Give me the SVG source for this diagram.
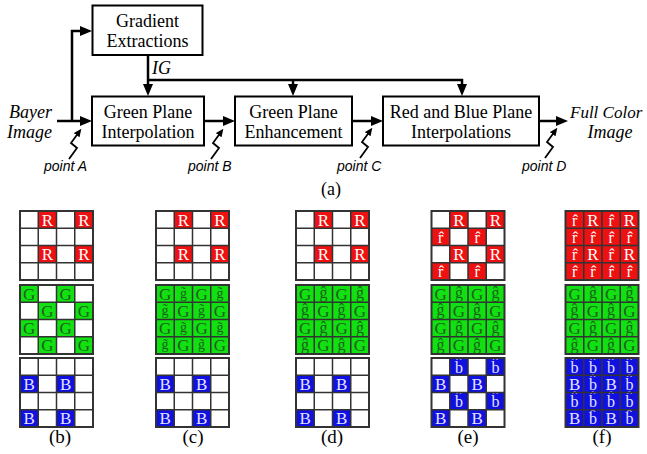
<svg xmlns="http://www.w3.org/2000/svg" width="647" height="454" viewBox="0 0 647 454">
<style>
.box{fill:#fff;stroke:#000;stroke-width:2}
.bt{font-family:"Liberation Serif","Times New Roman",serif;font-size:18px;text-anchor:middle;fill:#000}
.it{font-family:"Liberation Serif","Times New Roman",serif;font-size:18px;font-style:italic;fill:#000}
.pt{font-family:"Liberation Sans",Arial,sans-serif;font-size:14px;font-style:italic;fill:#000}
.cap{font-family:"Liberation Serif","Times New Roman",serif;font-size:19px;text-anchor:middle;fill:#000}
.con{fill:none;stroke:#000;stroke-width:2.5}
.zig{fill:none;stroke:#000;stroke-width:1.8;stroke-linejoin:miter}
.c{font-family:"Liberation Serif","Times New Roman",serif;font-size:17px;text-anchor:middle}
.l{font-size:16px}
.s{font-size:14px}
.w{fill:#fff}
.bw{fill:#e4e4ff}
.g{fill:#1e5e1e}
.fr{fill:#ee1111}
.fg{fill:#11e011}
.fb{fill:#1010e0}
.gl{fill:none;stroke:#333;stroke-width:1.5}
</style>
<defs>
<marker id="ah" markerUnits="userSpaceOnUse" markerWidth="12" markerHeight="10" refX="6" refY="5" orient="auto"><path d="M0,0L12,5L0,10z" fill="#000"/></marker>
<marker id="zh" markerUnits="userSpaceOnUse" markerWidth="8" markerHeight="7" refX="4" refY="3.5" orient="auto"><path d="M0,0L8,3.5L0,7z" fill="#000"/></marker>
<g id="gl"><rect x="0" y="0" width="73" height="69" class="gl" style="stroke-width:2"/><path class="gl" d="M18.25 0V69M36.5 0V69M54.75 0V69M0 17.25H73M0 34.5H73M0 51.75H73"/></g>
<g id="redB">
<rect width="73" height="69" fill="#fff"/>
<path class="fr" d="M18.25 0h18.25v17.25h-18.25zM54.75 0h18.25v17.25h-18.25zM18.25 34.5h18.25v17.25h-18.25zM54.75 34.5h18.25v17.25h-18.25z"/>
<text class="c w" x="27.4" y="14.6">R</text><text class="c w" x="63.9" y="14.6">R</text>
<text class="c w" x="27.4" y="49.1">R</text><text class="c w" x="63.9" y="49.1">R</text>
<use href="#gl"/>
</g>
<g id="redE">
<rect width="73" height="69" fill="#fff"/>
<path class="fr" d="M18.25 0h18.25v17.25h-18.25zM54.75 0h18.25v17.25h-18.25zM18.25 34.5h18.25v17.25h-18.25zM54.75 34.5h18.25v17.25h-18.25zM0 17.25h18.25v17.25h-18.25zM36.5 17.25h18.25v17.25h-18.25zM0 51.75h18.25v17.25h-18.25zM36.5 51.75h18.25v17.25h-18.25z"/>
<text class="c w" x="27.4" y="14.6">R</text><text class="c w" x="63.9" y="14.6">R</text>
<text class="c w" x="27.4" y="49.1">R</text><text class="c w" x="63.9" y="49.1">R</text>
<text class="c l w" x="9.1" y="31.8">r&#x302;</text><text class="c l w" x="45.6" y="31.8">r&#x302;</text>
<text class="c l w" x="9.1" y="66.3">r&#x302;</text><text class="c l w" x="45.6" y="66.3">r&#x302;</text>
<use href="#gl"/>
</g>
<g id="redF">
<rect width="73" height="69" class="fr"/>
<text class="c w" x="27.4" y="14.6">R</text><text class="c w" x="63.9" y="14.6">R</text>
<text class="c w" x="27.4" y="49.1">R</text><text class="c w" x="63.9" y="49.1">R</text>
<text class="c l w" x="9.1" y="14.6">r&#x302;</text><text class="c l w" x="45.6" y="14.6">r&#x302;</text>
<text class="c l w" x="9.1" y="31.8">r&#x302;</text><text class="c l w" x="27.4" y="31.8">r&#x302;</text><text class="c l w" x="45.6" y="31.8">r&#x302;</text><text class="c l w" x="63.9" y="31.8">r&#x302;</text>
<text class="c l w" x="9.1" y="49.1">r&#x302;</text><text class="c l w" x="45.6" y="49.1">r&#x302;</text>
<text class="c l w" x="9.1" y="66.3">r&#x302;</text><text class="c l w" x="27.4" y="66.3">r&#x302;</text><text class="c l w" x="45.6" y="66.3">r&#x302;</text><text class="c l w" x="63.9" y="66.3">r&#x302;</text>
<use href="#gl"/>
</g>
<g id="greenB">
<rect width="73" height="69" fill="#fff"/>
<path class="fg" d="M0 0h18.25v17.25h-18.25zM36.5 0h18.25v17.25h-18.25zM18.25 17.25h18.25v17.25h-18.25zM54.75 17.25h18.25v17.25h-18.25zM0 34.5h18.25v17.25h-18.25zM36.5 34.5h18.25v17.25h-18.25zM18.25 51.75h18.25v17.25h-18.25zM54.75 51.75h18.25v17.25h-18.25z"/>
<text class="c g" x="9.1" y="14.6">G</text><text class="c g" x="45.6" y="14.6">G</text>
<text class="c g" x="27.4" y="31.8">G</text><text class="c g" x="63.9" y="31.8">G</text>
<text class="c g" x="9.1" y="49.1">G</text><text class="c g" x="45.6" y="49.1">G</text>
<text class="c g" x="27.4" y="66.3">G</text><text class="c g" x="63.9" y="66.3">G</text>
<use href="#gl"/>
</g>
<g id="greenC">
<rect width="73" height="69" class="fg"/>
<text class="c g" x="9.1" y="14.6">G</text><text class="c g" x="45.6" y="14.6">G</text>
<text class="c g" x="27.4" y="31.8">G</text><text class="c g" x="63.9" y="31.8">G</text>
<text class="c g" x="9.1" y="49.1">G</text><text class="c g" x="45.6" y="49.1">G</text>
<text class="c g" x="27.4" y="66.3">G</text><text class="c g" x="63.9" y="66.3">G</text>
<text class="c s g" x="27.4" y="12.6">g&#x303;</text><text class="c s g" x="63.9" y="12.6">g&#x303;</text>
<text class="c s g" x="9.1" y="29.8">g&#x303;</text><text class="c s g" x="45.6" y="29.8">g&#x303;</text>
<text class="c s g" x="27.4" y="47.1">g&#x303;</text><text class="c s g" x="63.9" y="47.1">g&#x303;</text>
<text class="c s g" x="9.1" y="64.3">g&#x303;</text><text class="c s g" x="45.6" y="64.3">g&#x303;</text>
<use href="#gl"/>
</g>
<g id="greenD">
<rect width="73" height="69" class="fg"/>
<text class="c g" x="9.1" y="14.6">G</text><text class="c g" x="45.6" y="14.6">G</text>
<text class="c g" x="27.4" y="31.8">G</text><text class="c g" x="63.9" y="31.8">G</text>
<text class="c g" x="9.1" y="49.1">G</text><text class="c g" x="45.6" y="49.1">G</text>
<text class="c g" x="27.4" y="66.3">G</text><text class="c g" x="63.9" y="66.3">G</text>
<text class="c l g" x="27.4" y="13.1">ĝ</text><text class="c l g" x="63.9" y="13.1">ĝ</text>
<text class="c l g" x="9.1" y="30.3">ĝ</text><text class="c l g" x="45.6" y="30.3">ĝ</text>
<text class="c l g" x="27.4" y="47.6">ĝ</text><text class="c l g" x="63.9" y="47.6">ĝ</text>
<text class="c l g" x="9.1" y="64.8">ĝ</text><text class="c l g" x="45.6" y="64.8">ĝ</text>
<use href="#gl"/>
</g>
<g id="blueB">
<rect width="73" height="69" fill="#fff"/>
<path class="fb" d="M0 17.25h18.25v17.25h-18.25zM36.5 17.25h18.25v17.25h-18.25zM0 51.75h18.25v17.25h-18.25zM36.5 51.75h18.25v17.25h-18.25z"/>
<text class="c bw" x="9.1" y="31.8">B</text><text class="c bw" x="45.6" y="31.8">B</text>
<text class="c bw" x="9.1" y="66.3">B</text><text class="c bw" x="45.6" y="66.3">B</text>
<use href="#gl"/>
</g>
<g id="blueE">
<rect width="73" height="69" fill="#fff"/>
<path class="fb" d="M0 17.25h18.25v17.25h-18.25zM36.5 17.25h18.25v17.25h-18.25zM0 51.75h18.25v17.25h-18.25zM36.5 51.75h18.25v17.25h-18.25zM18.25 0h18.25v17.25h-18.25zM54.75 0h18.25v17.25h-18.25zM18.25 34.5h18.25v17.25h-18.25zM54.75 34.5h18.25v17.25h-18.25z"/>
<text class="c bw" x="9.1" y="31.8">B</text><text class="c bw" x="45.6" y="31.8">B</text>
<text class="c bw" x="9.1" y="66.3">B</text><text class="c bw" x="45.6" y="66.3">B</text>
<text class="c l bw" x="27.4" y="14.6">b&#x302;</text><text class="c l bw" x="63.9" y="14.6">b&#x302;</text>
<text class="c l bw" x="27.4" y="49.1">b&#x302;</text><text class="c l bw" x="63.9" y="49.1">b&#x302;</text>
<use href="#gl"/>
</g>
<g id="blueF">
<rect width="73" height="69" class="fb"/>
<text class="c bw" x="9.1" y="31.8">B</text><text class="c bw" x="45.6" y="31.8">B</text>
<text class="c bw" x="9.1" y="66.3">B</text><text class="c bw" x="45.6" y="66.3">B</text>
<text class="c l bw" x="9.1" y="14.6">b&#x302;</text><text class="c l bw" x="27.4" y="14.6">b&#x302;</text><text class="c l bw" x="45.6" y="14.6">b&#x302;</text><text class="c l bw" x="63.9" y="14.6">b&#x302;</text>
<text class="c l bw" x="27.4" y="31.8">b&#x302;</text><text class="c l bw" x="63.9" y="31.8">b&#x302;</text>
<text class="c l bw" x="9.1" y="49.1">b&#x302;</text><text class="c l bw" x="27.4" y="49.1">b&#x302;</text><text class="c l bw" x="45.6" y="49.1">b&#x302;</text><text class="c l bw" x="63.9" y="49.1">b&#x302;</text>
<text class="c l bw" x="27.4" y="66.3">b&#x302;</text><text class="c l bw" x="63.9" y="66.3">b&#x302;</text>
<use href="#gl"/>
</g>
</defs>
<rect width="647" height="454" fill="#fff"/>

<g id="connectors">
<path class="con" d="M57 121H86" marker-end="url(#ah)"/>
<path class="con" d="M72 121V31H86" marker-end="url(#ah)"/>
<path class="con" d="M148 55V90" marker-end="url(#ah)"/>
<path class="con" d="M148 80H462V90" marker-end="url(#ah)"/>
<path class="con" d="M293 80V90" marker-end="url(#ah)"/>
<path class="con" d="M204 121H229" marker-end="url(#ah)"/>
<path class="con" d="M352 121H377" marker-end="url(#ah)"/>
<path class="con" d="M539 121H562" marker-end="url(#ah)"/>
<path class="zig" transform="translate(69 159)" d="M0 0L8 -11L2 -16L10 -27" marker-end="url(#zh)"/>
<path class="zig" transform="translate(211 159)" d="M0 0L8 -11L2 -16L10 -27" marker-end="url(#zh)"/>
<path class="zig" transform="translate(360 158)" d="M0 0L8 -11L2 -16L10 -27" marker-end="url(#zh)"/>
<path class="zig" transform="translate(545 158)" d="M0 0L8 -11L2 -16L10 -27" marker-end="url(#zh)"/>
</g>

<g id="gradient">
<rect class="box" x="92.5" y="5.5" width="110" height="49.5"/>
<text class="bt" x="147.5" y="27">Gradient</text>
<text class="bt" x="147.5" y="47">Extractions</text>
</g>
<g id="gpi">
<rect class="box" x="92" y="96.5" width="112" height="49"/>
<text class="bt" x="148" y="118">Green Plane</text>
<text class="bt" x="148" y="138">Interpolation</text>
</g>
<g id="gpe">
<rect class="box" x="235" y="96.5" width="117" height="49"/>
<text class="bt" x="293.5" y="118">Green Plane</text>
<text class="bt" x="293.5" y="138">Enhancement</text>
</g>
<g id="rbi">
<rect class="box" x="383" y="96.5" width="156" height="49"/>
<text class="bt" x="461" y="118">Red and Blue Plane</text>
<text class="bt" x="461" y="138">Interpolations</text>
</g>
<g id="bayer">
<text class="it" x="52" y="118" text-anchor="end">Bayer</text>
<text class="it" x="52" y="138" text-anchor="end">Image</text>
</g>
<g id="fullcolor">
<text class="it" x="570" y="118" style="font-size:17px">Full Color</text>
<text class="it" x="610" y="138" text-anchor="middle">Image</text>
</g>
<text class="it" x="152" y="74">IG</text>
<g id="points">
<text class="pt" x="44" y="171">point A</text>
<text class="pt" x="188" y="171">point B</text>
<text class="pt" x="337" y="171">point C</text>
<text class="pt" x="522" y="171">point D</text>
</g>
<text class="cap" x="331" y="195" style="font-size:18px">(a)</text>

<g id="grid-b">
<use href="#redB" x="20" y="211"/><use href="#greenB" x="20" y="285"/><use href="#blueB" x="20" y="358"/>
<text class="cap" x="60" y="443">(b)</text>
</g>
<g id="grid-c">
<use href="#redB" x="156" y="211"/><use href="#greenC" x="156" y="285"/><use href="#blueB" x="156" y="358"/>
<text class="cap" x="193" y="443">(c)</text>
</g>
<g id="grid-d">
<use href="#redB" x="296" y="211"/><use href="#greenD" x="296" y="285"/><use href="#blueB" x="296" y="358"/>
<text class="cap" x="332" y="443">(d)</text>
</g>
<g id="grid-e">
<use href="#redE" x="431.5" y="211"/><use href="#greenD" x="431.5" y="285"/><use href="#blueE" x="431.5" y="358"/>
<text class="cap" x="468" y="443">(e)</text>
</g>
<g id="grid-f">
<use href="#redF" x="565.5" y="211"/><use href="#greenD" x="565.5" y="285"/><use href="#blueF" x="565.5" y="358"/>
<text class="cap" x="602" y="443">(f)</text>
</g>
</svg>
